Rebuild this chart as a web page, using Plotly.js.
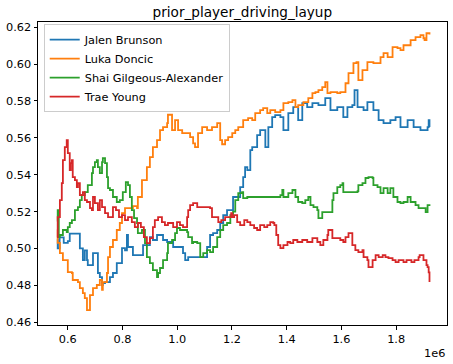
<!DOCTYPE html>
<html>
<head>
<meta charset="utf-8">
<script src="https://cdn.plot.ly/plotly-3.0.1.min.js"></script>
<style>html,body{margin:0;padding:0;background:#fff;}#chart{width:453px;height:364px;}</style>
</head>
<body>
<div id="chart"></div>
<script>
// x values are in units of 1e6
const seriesNames = ["Jalen Brunson", "Luka Doncic", "Shai Gilgeous-Alexander", "Trae Young"];
const seriesColors = ["#1f77b4", "#ff7f0e", "#2ca02c", "#d62728"];

const brunsonX = [0.560,0.563,0.570,0.585,0.600,0.607,0.640,0.644,0.655,0.662,0.670,0.673,0.692,0.710,0.717,0.725,0.728,0.736,0.754,0.765,0.779,0.798,0.809,0.816,0.820,0.838,0.864,0.875,0.900,0.911,0.926,0.937,0.948,0.963,0.985,1.003,1.021,1.029,1.040,1.084,1.095,1.109,1.120,1.131,1.146,1.157,1.168,1.182,1.204,1.230,1.241,1.248,1.256,1.267,1.274,1.292,1.303,1.322,1.333,1.347,1.358,1.377,1.388,1.406,1.424,1.442,1.457,1.475,1.494,1.516,1.541,1.560,1.585,1.607,1.622,1.640,1.648,1.659,1.681,1.695,1.717,1.736,1.754,1.779,1.798,1.816,1.842,1.864,1.889,1.915,1.919,1.922];
const brunsonY = [0.505,0.500,0.506,0.503,0.504,0.508,0.508,0.500,0.4937,0.499,0.4937,0.491,0.4975,0.4867,0.4845,0.4802,0.4812,0.4818,0.4845,0.4867,0.4921,0.5002,0.4990,0.5073,0.5008,0.4964,0.4964,0.5018,0.5062,0.5046,0.5073,0.5073,0.5046,0.5035,0.5008,0.5008,0.4975,0.4937,0.4953,0.4953,0.4953,0.5008,0.5073,0.5083,0.5100,0.5138,0.5181,0.5208,0.5279,0.5333,0.5387,0.5441,0.5425,0.5533,0.5550,0.5615,0.5642,0.5550,0.5658,0.5712,0.5723,0.5712,0.5642,0.5734,0.5766,0.5696,0.5788,0.5766,0.5788,0.5777,0.5815,0.5750,0.5766,0.5712,0.5766,0.5777,0.5859,0.5766,0.5750,0.5793,0.5750,0.5696,0.5680,0.5696,0.5712,0.5658,0.5696,0.5658,0.5642,0.5658,0.5696,0.5658];

const doncicX = [0.560,0.563,0.571,0.582,0.596,0.600,0.615,0.618,0.637,0.644,0.655,0.662,0.670,0.681,0.692,0.706,0.717,0.725,0.728,0.743,0.747,0.754,0.765,0.779,0.790,0.798,0.809,0.827,0.838,0.853,0.856,0.871,0.889,0.900,0.911,0.926,0.937,0.948,0.963,0.966,0.981,0.992,1.003,1.018,1.036,1.047,1.058,1.065,1.076,1.091,1.109,1.127,1.146,1.157,1.164,1.175,1.186,1.201,1.212,1.223,1.241,1.259,1.274,1.285,1.303,1.314,1.329,1.340,1.358,1.377,1.388,1.406,1.421,1.432,1.442,1.461,1.479,1.494,1.505,1.516,1.530,1.541,1.549,1.560,1.571,1.585,1.596,1.615,1.626,1.644,1.655,1.662,1.677,1.695,1.717,1.743,1.754,1.769,1.787,1.805,1.816,1.827,1.853,1.871,1.889,1.900,1.904,1.911,1.922];
const doncicY = [0.510,0.503,0.4975,0.4937,0.4937,0.4872,0.4867,0.4829,0.4818,0.4785,0.4758,0.4731,0.4666,0.4747,0.4785,0.4802,0.4829,0.4775,0.4818,0.4867,0.4953,0.5008,0.5046,0.5100,0.5138,0.5192,0.5219,0.5219,0.5230,0.5219,0.5279,0.5371,0.5441,0.5495,0.5550,0.5588,0.5642,0.5658,0.5680,0.5725,0.5642,0.5696,0.5642,0.5625,0.5625,0.5604,0.5570,0.5550,0.5625,0.5658,0.5642,0.5658,0.5680,0.5588,0.5565,0.5588,0.5604,0.5625,0.5642,0.5658,0.5696,0.5707,0.5696,0.5734,0.5750,0.5761,0.5734,0.5750,0.5739,0.5750,0.5788,0.5793,0.5804,0.5766,0.5777,0.5793,0.5815,0.5842,0.5848,0.5859,0.5875,0.5902,0.5842,0.5848,0.5848,0.5842,0.5848,0.5896,0.5951,0.6005,0.6010,0.5913,0.5967,0.6010,0.6005,0.6037,0.6059,0.6037,0.6092,0.6086,0.6075,0.6102,0.6130,0.6146,0.6157,0.6140,0.6130,0.6167,0.6160];

const gilgeousX = [0.560,0.563,0.567,0.571,0.582,0.596,0.600,0.607,0.615,0.626,0.637,0.644,0.651,0.662,0.673,0.688,0.692,0.699,0.706,0.710,0.717,0.725,0.728,0.736,0.743,0.747,0.754,0.765,0.779,0.790,0.801,0.812,0.820,0.827,0.834,0.842,0.853,0.856,0.871,0.882,0.889,0.900,0.911,0.926,0.930,0.937,0.948,0.963,0.966,0.981,0.992,0.999,1.010,1.021,1.036,1.040,1.054,1.058,1.073,1.084,1.095,1.109,1.120,1.131,1.146,1.157,1.168,1.182,1.194,1.204,1.212,1.223,1.237,1.241,1.256,1.377,1.384,1.388,1.406,1.421,1.432,1.442,1.457,1.468,1.479,1.487,1.498,1.512,1.516,1.530,1.560,1.567,1.571,1.585,1.596,1.604,1.607,1.659,1.662,1.677,1.688,1.699,1.714,1.717,1.732,1.743,1.754,1.769,1.779,1.790,1.805,1.816,1.827,1.842,1.853,1.871,1.882,1.897,1.908,1.915,1.922];
const gilgeousY = [0.515,0.5208,0.5062,0.5073,0.5100,0.5089,0.5116,0.5138,0.5154,0.5208,0.5224,0.5262,0.5289,0.5306,0.5344,0.5409,0.5441,0.5468,0.5479,0.5441,0.5409,0.5468,0.5490,0.5463,0.5387,0.5327,0.5317,0.5279,0.5252,0.5262,0.5306,0.5360,0.5344,0.5279,0.5208,0.5165,0.5138,0.5083,0.5100,0.5029,0.4953,0.4921,0.4883,0.4845,0.4867,0.4894,0.4937,0.4975,0.5029,0.5046,0.5083,0.5111,0.5100,0.5100,0.5089,0.5062,0.5029,0.5035,0.5029,0.4953,0.4975,0.4991,0.4980,0.5008,0.5062,0.5100,0.5127,0.5138,0.5180,0.5200,0.5262,0.5300,0.5306,0.5273,0.5279,0.5289,0.5317,0.5279,0.5300,0.5317,0.5279,0.5252,0.5246,0.5262,0.5279,0.5235,0.5224,0.5208,0.5165,0.5197,0.5197,0.5262,0.5300,0.5333,0.5344,0.5354,0.5306,0.5311,0.5344,0.5354,0.5382,0.5387,0.5382,0.5344,0.5333,0.5300,0.5327,0.5300,0.5327,0.5279,0.5252,0.5246,0.5252,0.5279,0.5252,0.5235,0.5219,0.5219,0.5197,0.5235,0.5230];

const youngX = [0.560,0.563,0.571,0.578,0.582,0.589,0.596,0.600,0.607,0.611,0.615,0.618,0.626,0.633,0.637,0.644,0.655,0.662,0.670,0.681,0.688,0.692,0.699,0.710,0.717,0.725,0.736,0.747,0.754,0.765,0.776,0.787,0.798,0.809,0.820,0.834,0.845,0.856,0.867,0.878,0.889,0.900,0.911,0.918,0.930,0.944,0.955,0.966,0.985,0.999,1.010,1.021,1.036,1.040,1.047,1.058,1.073,1.091,1.109,1.120,1.127,1.138,1.150,1.161,1.175,1.197,1.201,1.208,1.219,1.230,1.245,1.256,1.267,1.281,1.292,1.303,1.318,1.329,1.340,1.351,1.355,1.362,1.369,1.377,1.388,1.403,1.413,1.424,1.439,1.457,1.475,1.494,1.512,1.523,1.534,1.549,1.552,1.567,1.585,1.596,1.607,1.615,1.626,1.640,1.651,1.662,1.677,1.681,1.695,1.699,1.714,1.725,1.736,1.751,1.761,1.772,1.787,1.798,1.809,1.827,1.838,1.856,1.867,1.882,1.886,1.900,1.911,1.915,1.919,1.922];
const youngY = [0.5062,0.5170,0.5262,0.5354,0.5479,0.5550,0.5588,0.5517,0.5425,0.5463,0.5479,0.5387,0.5371,0.5333,0.5354,0.5289,0.5306,0.5262,0.5252,0.5219,0.5208,0.5279,0.5246,0.5208,0.5262,0.5224,0.5192,0.5170,0.5170,0.5224,0.5208,0.5170,0.5181,0.5154,0.5170,0.5143,0.5116,0.5138,0.5116,0.5062,0.5029,0.5056,0.5116,0.5154,0.5170,0.5143,0.5127,0.5138,0.5116,0.5143,0.5127,0.5116,0.5170,0.5208,0.5235,0.5246,0.5224,0.5224,0.5224,0.5219,0.5170,0.5170,0.5143,0.5154,0.5170,0.5192,0.5170,0.5181,0.5143,0.5127,0.5154,0.5143,0.5127,0.5111,0.5100,0.5127,0.5116,0.5127,0.5143,0.5138,0.5127,0.5073,0.5018,0.5002,0.5018,0.5035,0.5029,0.5046,0.5035,0.5046,0.5035,0.5056,0.5035,0.5018,0.5046,0.5073,0.5100,0.5056,0.5056,0.5046,0.5035,0.5062,0.5083,0.5018,0.4991,0.4980,0.4991,0.4953,0.4937,0.4899,0.4937,0.4964,0.4953,0.4964,0.4953,0.4948,0.4937,0.4926,0.4937,0.4926,0.4937,0.4926,0.4937,0.4953,0.4964,0.4937,0.4910,0.4899,0.4870,0.4818];

const xTickVals = [0.6, 0.8, 1.0, 1.2, 1.4, 1.6, 1.8];
const xTickText = ["0.6", "0.8", "1.0", "1.2", "1.4", "1.6", "1.8"];
const yTickVals = [0.46, 0.48, 0.50, 0.52, 0.54, 0.56, 0.58, 0.60, 0.62];
const yTickText = ["0.46", "0.48", "0.50", "0.52", "0.54", "0.56", "0.58", "0.60", "0.62"];

const xs = [brunsonX, doncicX, gilgeousX, youngX];
const ys = [brunsonY, doncicY, gilgeousY, youngY];

const FONT = "DejaVu Sans, sans-serif";
const traces = seriesNames.map((n, i) => ({
  type: "scatter", mode: "lines", name: n,
  x: xs[i], y: ys[i],
  line: {color: seriesColors[i], width: 1.8, shape: "hv"}
}));

const axisCommon = {
  showline: true, mirror: true, linecolor: "#000", linewidth: 1,
  ticks: "outside", ticklen: 3.5, tickwidth: 1, tickcolor: "#000",
  showgrid: false, zeroline: false,
  tickfont: {family: FONT, size: 11.3, color: "#000"}
};

const layout = {
  width: 453, height: 364,
  margin: {l: 38, r: 6, t: 22, b: 39},
  paper_bgcolor: "#fff", plot_bgcolor: "#fff",
  title: {text: "prior_player_driving_layup", font: {family: FONT, size: 13.6, color: "#000"},
          x: 0.535, xanchor: "center", yref: "paper", y: 1, yanchor: "bottom", pad: {b: 5}},
  xaxis: Object.assign({}, axisCommon, {range: [0.491, 1.986], tickmode: "array", tickvals: xTickVals, ticktext: xTickText}),
  yaxis: Object.assign({}, axisCommon, {range: [0.4585, 0.6228], tickmode: "array", tickvals: yTickVals, ticktext: yTickText}),
  showlegend: true,
  legend: {x: 0.014, y: 0.993, xanchor: "left", yanchor: "top",
           bgcolor: "rgba(255,255,255,0.8)", bordercolor: "#cccccc", borderwidth: 1,
           font: {family: FONT, size: 11.3, color: "#000"}, tracegroupgap: 0},
  annotations: [{text: "1e6", xref: "paper", yref: "paper", x: 1.0, y: -0.066, xanchor: "right", yanchor: "top",
                 showarrow: false, font: {family: FONT, size: 11.3, color: "#000"}}]
};

Plotly.newPlot("chart", traces, layout, {displayModeBar: false, staticPlot: true});
</script>
</body>
</html>
